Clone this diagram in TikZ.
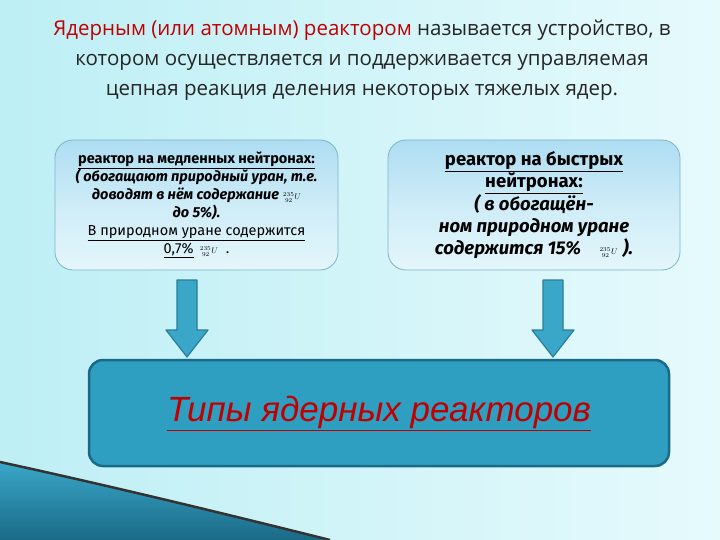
\documentclass[tikz,border=0pt]{standalone}
\usepackage{fontspec}
\setmainfont{Open Sans}
\newfontfamily\fira{Fira Sans}
\newfontfamily\arialf{Liberation Sans}
\usetikzlibrary{shadings}
\definecolor{bgA}{HTML}{BDEFF5}
\definecolor{bgB}{HTML}{E6FAFC}
\definecolor{redT}{HTML}{C00000}
\definecolor{boxT}{HTML}{AEDDF2}
\definecolor{boxB}{HTML}{E4F6FB}
\definecolor{boxE}{HTML}{7FB2C8}
\definecolor{bigF}{HTML}{2E9FC0}
\definecolor{bigE}{HTML}{1A6A87}
\definecolor{arF}{HTML}{3AA7C8}
\definecolor{arE}{HTML}{2A7E99}
\tikzset{
  infobox/.style={draw=boxE, line width=0.8pt, rounded corners=18pt, top color=boxT, bottom color=boxB, middle color=boxB!60!boxT, minimum width=#1, minimum height=130pt, inner sep=0pt},
  blockarrow/.style={fill=arF, draw=arE, line width=1.2pt, line join=round}
}
\newcommand{\Uiso}{\ensuremath{{}^{235}_{\;92}U}}
\begin{document}
\begin{tikzpicture}[x=1pt,y=-1pt]
\useasboundingbox (0,0) rectangle (720,540);
\shade[left color=bgA, right color=bgB] (0,0) rectangle (720,540);
% decorative wedge
\shade[top color=arF, bottom color=bigE] (0,462) .. controls (120,488) and (250,520) .. (330,540) -- (0,540) -- cycle;
\draw[line width=2.5pt, black!80] (0,462) .. controls (120,488) and (250,520) .. (330,540);
% title
\node[font=\fontsize{20.5}{30}\selectfont, align=center, text=black!85] (title) at (362,60)
 {\textcolor{redT}{Ядерным (или атомным) реактором} называется устройство, в\\
  котором осуществляется и поддерживается управляемая\\
  цепная реакция деления некоторых тяжелых ядер.};
% boxes
\node[infobox=283pt] (b1) at (196.5,205) {};
\node[infobox=292pt] (b2) at (534,205) {};
\node[font=\fira\fontsize{14.5}{18}\selectfont, align=center] (t1) at (b1)
 {\textbf{\underline{реактор на медленных нейтронах:}}\\
  \textbf{\itshape ( обогащают природный уран, т.е.}\\
  \textbf{\itshape доводят в нём содержание} {\footnotesize\Uiso}\\
  \textbf{\itshape до 5\%).}\\
  \underline{В природном уране содержится}\\
  \underline{0,7\%} \,{\footnotesize\Uiso}\; .};
\node[font=\fira\fontsize{18.5}{22}\selectfont, align=center] (t2) at (b2)
 {\textbf{\underline{реактор на быстрых}}\\
  \textbf{\underline{нейтронах:}}\\
  \textbf{\itshape ( в обогащён-}\\
  \textbf{\itshape ном природном уране}\\
  \textbf{\itshape содержится 15\%}\quad{\footnotesize\Uiso}\;\textbf{\itshape).}};
% big box
\node[draw=bigE, line width=2.5pt, fill=bigF, rounded corners=14pt, minimum width=580pt, minimum height=106pt] (big) at (379,413) {};
\node[font=\arialf\itshape\fontsize{35}{40}\selectfont, text=redT] (bt) at (big.center) {\underline{Типы ядерных реакторов}};
% arrows
\coordinate (a1) at (187,280);
\coordinate (a2) at (553,280);
\foreach \c in {a1,a2}{
 \draw[blockarrow] ([xshift=-10pt]\c) -- ([xshift=10pt]\c) -- ([xshift=10pt,yshift=-50pt]\c) -- ([xshift=21pt,yshift=-50pt]\c) -- ([yshift=-77pt]\c) -- ([xshift=-21pt,yshift=-50pt]\c) -- ([xshift=-10pt,yshift=-50pt]\c) -- cycle;
}
\end{tikzpicture}
\end{document}
